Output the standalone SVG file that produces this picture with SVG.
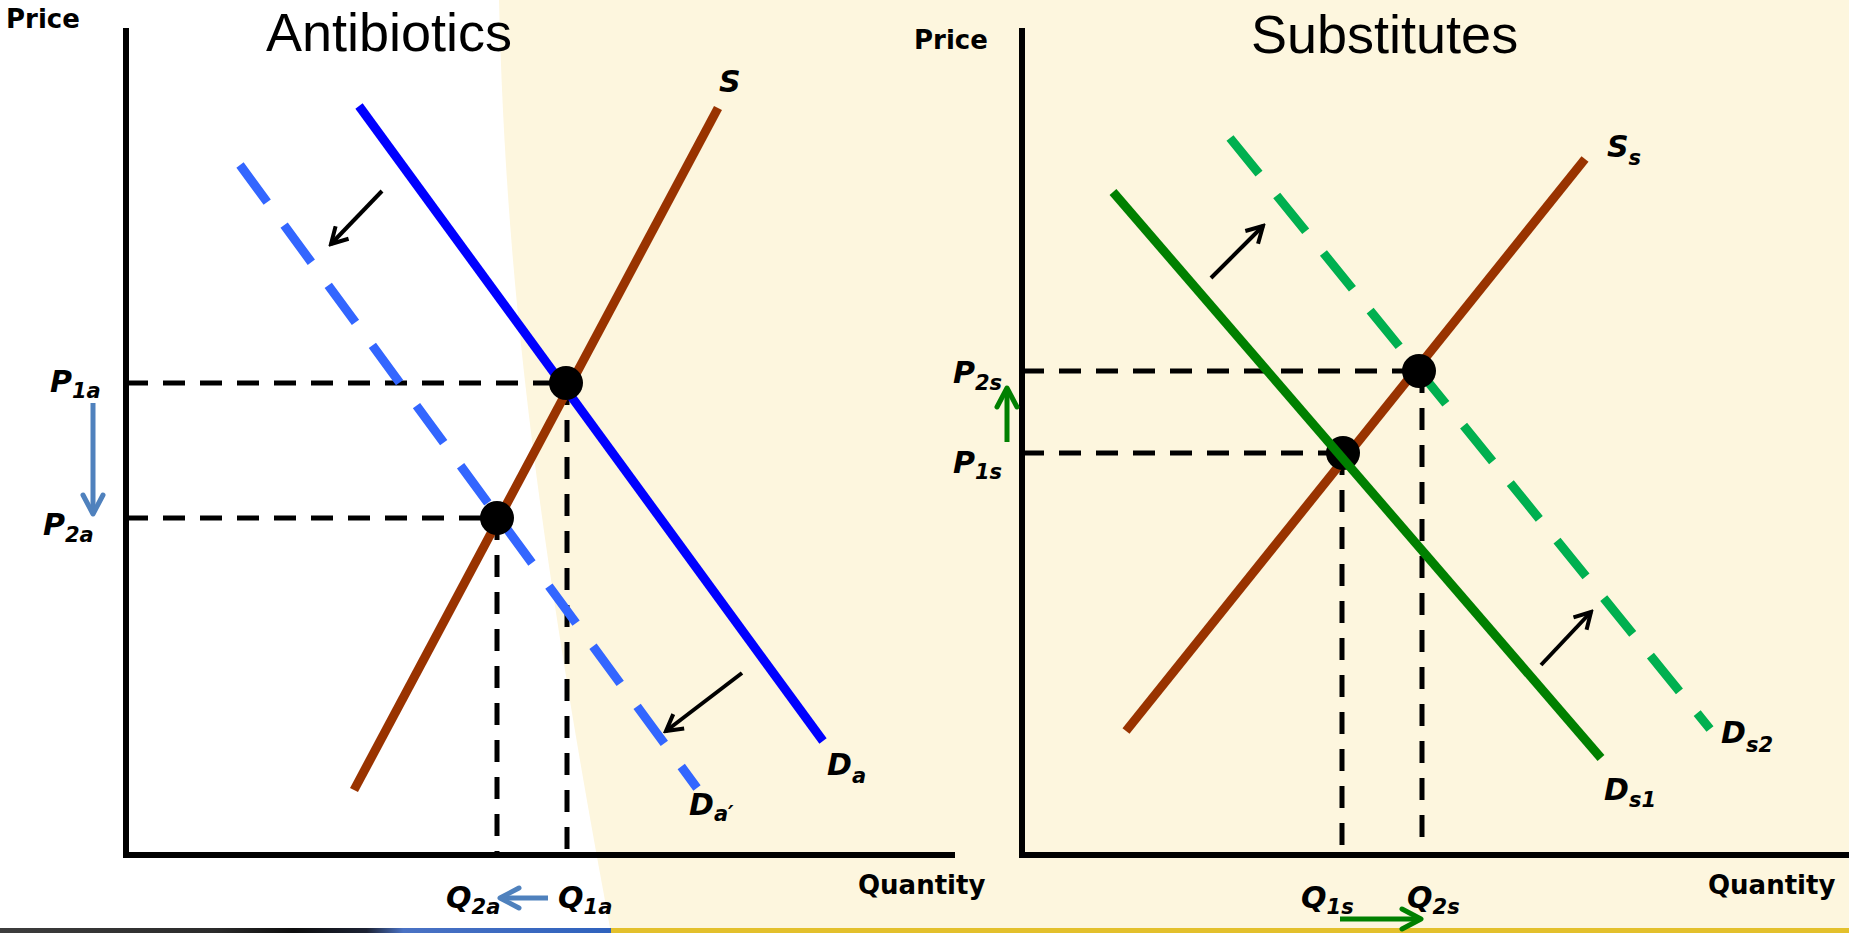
<svg xmlns="http://www.w3.org/2000/svg" width="1849" height="933" viewBox="0 0 1849 933">
<defs>
<style>
.ax{stroke:#000;stroke-width:6;fill:none}
.ref{stroke:#000;stroke-width:5;stroke-dasharray:22 15;fill:none}
.cv{stroke-width:9;fill:none}
.dcv{stroke-width:9;fill:none}
.pt{fill:#000}
.ttl{font-family:"Liberation Sans",Arial,sans-serif;font-size:54px;fill:#000}
.axl{font-family:"DejaVu Sans",Verdana,sans-serif;font-weight:bold;font-size:26px;fill:#000}
.lb{font-family:"DejaVu Sans",Verdana,sans-serif;font-weight:bold;font-style:italic;font-size:30px;fill:#000}
.sb{font-size:21px}
.sh{stroke:#000;stroke-width:4;fill:none;marker-end:url(#mk)}
.mvb{stroke:#4F81BD;stroke-width:5;fill:none;marker-end:url(#mb)}
.mvg{stroke:#008000;stroke-width:5;fill:none;marker-end:url(#mg)}
</style>
<marker id="mk" viewBox="0 0 22 22" refX="19" refY="11" markerWidth="22" markerHeight="22" markerUnits="userSpaceOnUse" orient="auto">
<path d="M3,2 L19,11 L3,20" fill="none" stroke="#000" stroke-width="4"/>
</marker>
<marker id="mb" viewBox="0 0 26 26" refX="22" refY="13" markerWidth="26" markerHeight="26" markerUnits="userSpaceOnUse" orient="auto">
<path d="M3,3 L22,13 L3,23" fill="none" stroke="#4F81BD" stroke-width="5" stroke-linecap="round" stroke-linejoin="round"/>
</marker>
<marker id="mg" viewBox="0 0 26 26" refX="22" refY="13" markerWidth="26" markerHeight="26" markerUnits="userSpaceOnUse" orient="auto">
<path d="M3,3 L22,13 L3,23" fill="none" stroke="#008000" stroke-width="5" stroke-linecap="round" stroke-linejoin="round"/>
</marker>
<linearGradient id="strip" x1="0" y1="0" x2="1" y2="0">
<stop offset="0" stop-color="#3d3d3d"/>
<stop offset="0.35" stop-color="#2b2b2b"/>
<stop offset="0.48" stop-color="#0e0e0e"/>
<stop offset="0.6" stop-color="#1c2233"/>
<stop offset="0.66" stop-color="#4a72c4"/>
<stop offset="1" stop-color="#2f62bd"/>
</linearGradient>
</defs>

<g id="background">
<rect x="0" y="0" width="1849" height="933" fill="#FFFFFF"/>
<path d="M499,0 C505,250 530,500 611,933 L1849,933 L1849,0 Z" fill="#FDF6DE"/>
<rect x="0" y="928" width="611" height="5" fill="url(#strip)"/>
<rect x="611" y="928" width="1238" height="5" fill="#E3C02C"/>
</g>

<g id="titles">
<text id="title-antibiotics" class="ttl" x="266" y="51">Antibiotics</text>
<text id="title-substitutes" class="ttl" x="1251" y="53">Substitutes</text>
</g>

<g id="axes">
<line class="ax" x1="126" y1="28" x2="126" y2="858"/>
<line class="ax" x1="123" y1="855" x2="955" y2="855"/>
<line class="ax" x1="1022" y1="28" x2="1022" y2="858"/>
<line class="ax" x1="1019" y1="855" x2="1849" y2="855"/>
<text class="axl" x="6" y="28">Price</text>
<text class="axl" x="914" y="49">Price</text>
<text class="axl" x="858" y="894">Quantity</text>
<text class="axl" x="1708" y="894">Quantity</text>
</g>

<g id="connectors">
<line class="ref" x1="126" y1="383" x2="567" y2="383"/>
<line class="ref" x1="126" y1="518" x2="497" y2="518"/>
<line class="ref" x1="567" y1="383" x2="567" y2="855"/>
<line class="ref" x1="497" y1="518" x2="497" y2="855"/>
<line class="ref" x1="1022" y1="371" x2="1419" y2="371"/>
<line class="ref" x1="1022" y1="453" x2="1343" y2="453"/>
<line class="ref" x1="1422" y1="371" x2="1422" y2="855"/>
<line class="ref" x1="1342" y1="453" x2="1342" y2="855"/>
<line class="sh" x1="382" y1="191" x2="331" y2="244"/>
<line class="sh" x1="742" y1="673" x2="666" y2="731"/>
<line class="sh" x1="1211" y1="278" x2="1263" y2="226"/>
<line class="sh" x1="1541" y1="665" x2="1591" y2="612"/>
<line class="mvb" x1="93" y1="403" x2="93" y2="514"/>
<line class="mvb" x1="548" y1="898" x2="500" y2="898"/>
<line class="mvg" x1="1007" y1="442" x2="1007" y2="388"/>
<line class="mvg" x1="1340" y1="919" x2="1421" y2="919"/>
</g>

<g id="curve-Da-prime">
<line class="dcv" x1="240" y1="165" x2="697" y2="788" stroke="#3366FF" stroke-dasharray="46 28.6"/>
</g>
<g id="curve-Da">
<line class="cv" x1="359" y1="106" x2="823" y2="741" stroke="#0000FF"/>
</g>
<g id="curve-S">
<line class="cv" x1="354" y1="790" x2="718" y2="108" stroke="#993300"/>
</g>
<g id="curve-Ds2">
<line class="dcv" x1="1230" y1="138" x2="1710" y2="729" stroke="#00B050" stroke-dasharray="46 28.1"/>
</g>
<g id="curve-Ss">
<line class="cv" x1="1126" y1="731" x2="1585" y2="159" stroke="#993300"/>
</g>

<g id="point-A1"><circle class="pt" cx="566" cy="383" r="17"/></g>
<g id="point-A2"><circle class="pt" cx="497" cy="518" r="17"/></g>
<g id="point-S2"><circle class="pt" cx="1419" cy="371" r="17"/></g>
<g id="point-S1"><circle class="pt" cx="1343" cy="453" r="17"/></g>

<g id="curve-Ds1">
<line class="cv" x1="1113" y1="192" x2="1601" y2="758" stroke="#008000"/>
</g>

<g id="labels">
<text class="lb" x="719" y="92">S</text>
<text class="lb" x="827" y="775">D<tspan class="sb" dy="8">a</tspan></text>
<text class="lb" x="689" y="815">D<tspan class="sb" dy="6">a′</tspan></text>
<text class="lb" x="50" y="392">P<tspan class="sb" dy="6">1a</tspan></text>
<text class="lb" x="43" y="535">P<tspan class="sb" dy="7">2a</tspan></text>
<text class="lb" x="446" y="908">Q<tspan class="sb" dy="6">2a</tspan></text>
<text class="lb" x="558" y="908">Q<tspan class="sb" dy="6">1a</tspan></text>
<text class="lb" x="1607" y="157">S<tspan class="sb" dy="8">s</tspan></text>
<text class="lb" x="1721" y="743">D<tspan class="sb" dy="9">s2</tspan></text>
<text class="lb" x="1604" y="800">D<tspan class="sb" dy="7">s1</tspan></text>
<text class="lb" x="953" y="383">P<tspan class="sb" dy="7">2s</tspan></text>
<text class="lb" x="953" y="473">P<tspan class="sb" dy="6">1s</tspan></text>
<text class="lb" x="1301" y="908">Q<tspan class="sb" dy="6">1s</tspan></text>
<text class="lb" x="1407" y="908">Q<tspan class="sb" dy="6">2s</tspan></text>
</g>
</svg>
